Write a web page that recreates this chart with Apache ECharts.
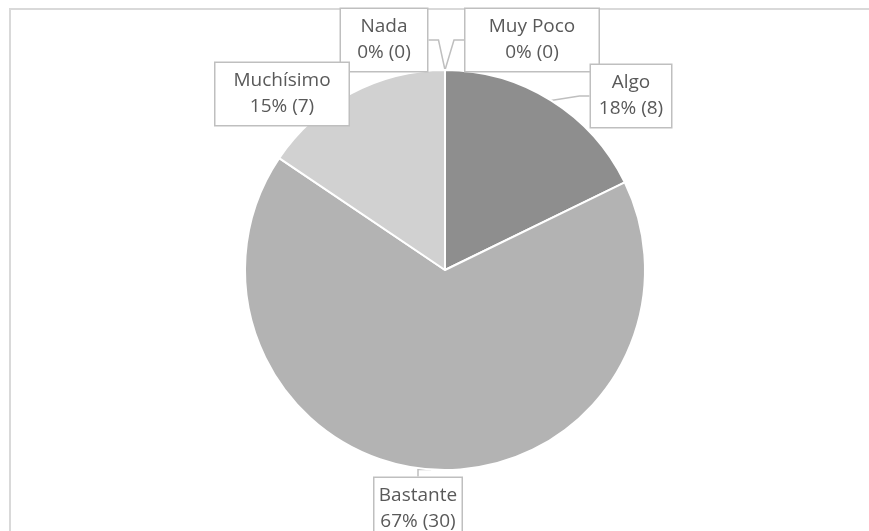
<!DOCTYPE html>
<html>
<head>
<meta charset="utf-8">
<script src="https://cdn.jsdelivr.net/npm/echarts@6/dist/echarts.min.js"></script>
<style>
  html, body { margin: 0; padding: 0; background: #fff; }
  #chart { width: 869px; height: 531px; }
</style>
</head>
<body>
<div id="chart"></div>
<script>
  // categories and counts, clockwise from 12 o'clock
  var categories = ['Nada', 'Muy Poco', 'Algo', 'Bastante', 'Muchísimo'];
  var counts = [0, 0, 8, 30, 7];
  var sliceColors = ['#a5a5a5', '#7f7f7f', '#8e8e8e', '#b3b3b3', '#d1d1d1'];

  // callout box centres and widths (label placement only)
  var labelPos = [[384, 40], [532, 40], [631, 96], [418, 509], [282, 94]];
  var labelWidth = [88, 135, 82, 89, 135];

  var chart = echarts.init(document.getElementById('chart'));

  var pieData = categories.map(function (name, i) {
    return {
      name: name,
      value: counts[i],
      itemStyle: { color: sliceColors[i] },
      label: { width: labelWidth[i] - 2 }
    };
  });

  var option = {
    backgroundColor: '#fff',
    animation: false,
    graphic: [{
      type: 'rect',
      shape: { x: 10, y: 9, width: 900, height: 560 },
      style: { fill: 'none', stroke: '#d9d9d9', lineWidth: 2 },
      silent: true
    }],
    series: [{
      type: 'pie',
      center: [445, 270],
      radius: 200,
      startAngle: 90,
      clockwise: true,
      percentPrecision: 0,
      data: pieData,
      itemStyle: {
        borderColor: '#fff',
        borderWidth: 2
      },
      label: {
        show: true,
        formatter: '{b}\n{d}% ({c})',
        fontFamily: 'Open Sans',
        fontSize: 19,
        lineHeight: 26,
        color: '#595959',
        align: 'center',
        backgroundColor: '#fff',
        borderColor: '#bfbfbf',
        borderWidth: 1.5,
        padding: [5, 0],
        overflow: 'none'
      },
      labelLine: {
        show: true,
        length: 10,
        length2: 10,
        lineStyle: { color: '#bfbfbf', width: 1.5 }
      },
      labelLayout: function (params) {
        var p = labelPos[params.dataIndex];
        return {
          x: p[0],
          y: p[1],
          align: 'center',
          verticalAlign: 'middle'
        };
      }
    }]
  };

  chart.setOption(option);
</script>
</body>
</html>
